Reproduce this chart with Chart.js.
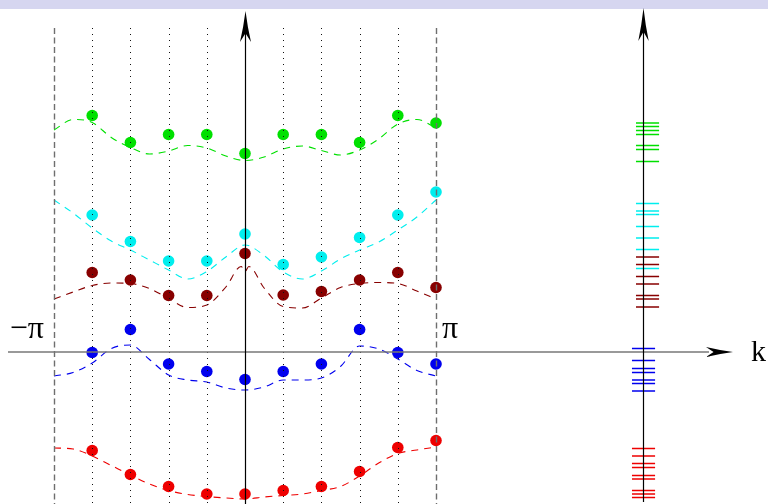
<!DOCTYPE html>
<html>
<head>
<meta charset="utf-8">
<title>Band structure</title>
<script src="https://cdn.jsdelivr.net/npm/chart.js@4/dist/chart.umd.min.js"></script>
<style>
  html, body { margin: 0; padding: 0; background: #ffffff; }
  #c { display: block; }
</style>
</head>
<body>
<canvas id="c" width="768" height="504" style="width:768px;height:504px"></canvas>
<script>
// Wave vector k in units of pi; the Brillouin zone runs from -1 to 1.
const kPoints = [-0.8, -0.6, -0.4, -0.2, 0, 0.2, 0.4, 0.6, 0.8, 1.0];
const kCurve = [-1, -0.9, -0.8, -0.7, -0.6, -0.5, -0.4, -0.3, -0.2, -0.1, 0,
                0.1, 0.2, 0.3, 0.4, 0.5, 0.6, 0.7, 0.8, 0.9, 1];
const kCurveDark = [-1, -0.9, -0.8, -0.7, -0.6, -0.5, -0.4, -0.3, -0.2, -0.1, -0.02, 0, 0.02,
                    0.1, 0.2, 0.3, 0.4, 0.5, 0.6, 0.7, 0.8, 0.9, 1];

// Energies of the discrete states (dots), one band per array.
const greenDots   = [4.73, 4.19, 4.35, 4.35, 3.97, 4.35, 4.35, 4.19, 4.73, 4.58];
const cyanDots    = [2.74, 2.21, 1.82, 1.82, 2.36, 1.75, 1.90, 2.29, 2.74, 3.20];
const darkRedDots = [1.59, 1.44, 1.13, 1.13, 1.97, 1.14, 1.21, 1.44, 1.59, 1.29];
const blueDots    = [-0.01, 0.45, -0.24, -0.39, -0.55, -0.39, -0.24, 0.45, -0.01, -0.24];
const redDots     = [-1.97, -2.45, -2.69, -2.84, -2.84, -2.77, -2.69, -2.39, -1.91, -1.77];

// Continuous bands (dashed curves).
const greenBand   = [4.44, 4.65, 4.59, 4.29, 4.09, 3.96, 4.02, 4.13, 4.08, 3.92, 3.83,
                     3.90, 4.06, 4.12, 4.03, 3.94, 4.04, 4.26, 4.56, 4.65, 4.48];
const cyanBand    = [3.04, 2.78, 2.48, 2.22, 2.04, 1.84, 1.64, 1.46, 1.61, 1.90, 2.14,
                     1.93, 1.60, 1.46, 1.62, 1.86, 2.04, 2.20, 2.44, 2.70, 3.04];
const darkRedBand = [1.06, 1.20, 1.33, 1.38, 1.37, 1.27, 1.07, 0.89, 0.94, 1.30, 1.71, 1.61, 1.71,
                     1.28, 0.91, 0.88, 1.08, 1.29, 1.37, 1.39, 1.37, 1.22, 1.06];
const blueBand    = [-0.48, -0.41, -0.22, 0.07, 0.14, -0.15, -0.46, -0.56, -0.60, -0.72, -0.76,
                     -0.70, -0.56, -0.56, -0.52, -0.29, 0.12, 0.06, -0.14, -0.37, -0.48];
const redBand     = [-1.92, -1.94, -2.08, -2.27, -2.46, -2.64, -2.77, -2.85, -2.89, -2.92, -2.94,
                     -2.90, -2.87, -2.84, -2.77, -2.69, -2.48, -2.22, -2.03, -1.96, -1.90];

// Energy levels of the finite system, shown on the right-hand axis.
const greenLevels   = [4.58, 4.51, 4.43, 4.35, 4.13, 4.05, 3.81];
const cyanLevels    = [2.97, 2.82, 2.75, 2.51, 2.28, 2.05, 1.67];
const darkRedLevels = [1.90, 1.75, 1.51, 1.36, 1.13, 1.06, 0.90];
const blueLevels    = [0.07, -0.17, -0.33, -0.41, -0.56, -0.63, -0.78];
const redLevels     = [-1.93, -2.08, -2.23, -2.31, -2.47, -2.54, -2.77, -2.84, -2.91];

// Axis ticks and labels.
const zoneEdges = [-1, 1];
const zoneEdgeLabels = ['\u2212\u03c0', '\u03c0'];
const innerK = [-0.8, -0.6, -0.4, -0.2, 0.2, 0.4, 0.6, 0.8];
const axisLabel = 'k';

const levelAxisK = 2.085;
const upperLevelSpan = [2.047, 2.168];
const lowerLevelSpan = [2.026, 2.147];

const COLORS = {
  green: '#00e000',
  cyan: '#00eeee',
  darkRed: '#880000',
  blue: '#0000ee',
  red: '#ee0000'
};

function pairs(xs, ys) { return xs.map((x, i) => ({ x: x, y: ys[i] })); }

function levelSegments(levels, span) {
  const out = [];
  levels.forEach(e => {
    out.push({ x: span[0], y: e });
    out.push({ x: span[1], y: e });
    out.push({ x: span[1], y: null });
  });
  return out;
}

function curve(xs, ys, color) {
  return {
    data: pairs(xs, ys), showLine: true, borderColor: color, borderWidth: 1.1,
    borderDash: [7, 6], pointRadius: 0, cubicInterpolationMode: 'monotone', fill: false
  };
}
function dots(ys, color) {
  return {
    data: pairs(kPoints, ys), showLine: false, pointRadius: 5.8, pointHoverRadius: 5.8,
    backgroundColor: color, borderColor: color, borderWidth: 0
  };
}
function levels(ls, span, color) {
  return {
    data: levelSegments(ls, span), showLine: true, spanGaps: false, borderColor: color,
    borderWidth: 1.6, pointRadius: 0
  };
}

function arrowHead(ctx, tipX, tipY, dirX, dirY, len, half) {
  const bx = tipX - dirX * len, by = tipY - dirY * len;
  const nx = -dirY, ny = dirX;
  const notchX = tipX - dirX * len * 0.72, notchY = tipY - dirY * len * 0.72;
  ctx.beginPath();
  ctx.moveTo(tipX, tipY);
  ctx.quadraticCurveTo(tipX - dirX * len * 0.5 + nx * half * 0.35, tipY - dirY * len * 0.5 + ny * half * 0.35,
                       bx + nx * half, by + ny * half);
  ctx.lineTo(notchX, notchY);
  ctx.lineTo(bx - nx * half, by - ny * half);
  ctx.quadraticCurveTo(tipX - dirX * len * 0.5 - nx * half * 0.35, tipY - dirY * len * 0.5 - ny * half * 0.35,
                       tipX, tipY);
  ctx.closePath();
  ctx.fill();
}

const framePlugin = {
  id: 'bandFrame',
  beforeDraw(chart) {
    const ctx = chart.ctx;
    ctx.save();
    ctx.fillStyle = '#ffffff';
    ctx.fillRect(0, 0, chart.width, chart.height);
    ctx.fillStyle = '#d6d6f0';
    ctx.fillRect(0, 0, chart.width, 9);
    ctx.restore();
  },
  afterDatasetsDraw(chart) {
    const ctx = chart.ctx;
    const xs = chart.scales.x, ys = chart.scales.y;
    const y0 = ys.getPixelForValue(0);
    const top = 28, bottom = chart.height;
    ctx.save();

    // inner k points: dotted
    ctx.strokeStyle = '#111111';
    ctx.lineWidth = 1;
    ctx.setLineDash([1, 5]);
    innerK.forEach(k => {
      const px = Math.round(xs.getPixelForValue(k)) + 0.5;
      ctx.beginPath(); ctx.moveTo(px, top); ctx.lineTo(px, bottom); ctx.stroke();
    });

    // zone boundaries: dashed
    ctx.strokeStyle = '#6e6e6e';
    ctx.lineWidth = 1.4;
    ctx.setLineDash([6, 3.5]);
    zoneEdges.forEach(k => {
      const px = Math.round(xs.getPixelForValue(k)) + 0.5;
      ctx.beginPath(); ctx.moveTo(px, top); ctx.lineTo(px, bottom); ctx.stroke();
    });
    ctx.setLineDash([]);

    // horizontal k axis
    const axisStart = 8, arrowTip = 733;
    ctx.strokeStyle = '#777777';
    ctx.lineWidth = 1.6;
    ctx.beginPath(); ctx.moveTo(axisStart, y0); ctx.lineTo(arrowTip - 24, y0); ctx.stroke();
    ctx.fillStyle = '#000000';
    arrowHead(ctx, arrowTip, y0, 1, 0, 27, 5);

    // energy axis through k = 0
    const ex = Math.round(xs.getPixelForValue(0)) + 0.5;
    ctx.strokeStyle = '#000000';
    ctx.lineWidth = 1.2;
    ctx.beginPath(); ctx.moveTo(ex, bottom); ctx.lineTo(ex, 30); ctx.stroke();
    arrowHead(ctx, ex, 11, 0, -1, 31, 5.5);

    // level axis on the right
    const lx = Math.round(xs.getPixelForValue(levelAxisK)) + 0.5;
    ctx.beginPath(); ctx.moveTo(lx, 502); ctx.lineTo(lx, 30); ctx.stroke();
    arrowHead(ctx, lx, 8, 0, -1, 33, 5.2);

    // labels
    ctx.fillStyle = '#000000';
    ctx.font = '32px "Liberation Serif", "DejaVu Serif", serif';
    ctx.textBaseline = 'alphabetic';
    ctx.textAlign = 'right';
    ctx.fillText(zoneEdgeLabels[0], xs.getPixelForValue(zoneEdges[0]) - 10, y0 - 14);
    ctx.textAlign = 'left';
    ctx.fillText(zoneEdgeLabels[1], xs.getPixelForValue(zoneEdges[1]) + 6, y0 - 14);
    ctx.font = '30px "Liberation Serif", "DejaVu Serif", serif';
    ctx.fillText(axisLabel, 751, y0 + 9);
    ctx.restore();
  }
};

new Chart(document.getElementById('c'), {
  type: 'scatter',
  data: {
    datasets: [
      curve(kCurve, greenBand, COLORS.green),
      curve(kCurve, cyanBand, COLORS.cyan),
      curve(kCurveDark, darkRedBand, COLORS.darkRed),
      curve(kCurve, blueBand, COLORS.blue),
      curve(kCurve, redBand, COLORS.red),
      dots(greenDots, COLORS.green),
      dots(cyanDots, COLORS.cyan),
      dots(darkRedDots, COLORS.darkRed),
      dots(blueDots, COLORS.blue),
      dots(redDots, COLORS.red),
      levels(greenLevels, upperLevelSpan, COLORS.green),
      levels(cyanLevels, upperLevelSpan, COLORS.cyan),
      levels(darkRedLevels, upperLevelSpan, COLORS.darkRed),
      levels(blueLevels, lowerLevelSpan, COLORS.blue),
      levels(redLevels, lowerLevelSpan, COLORS.red)
    ]
  },
  options: {
    responsive: false,
    animation: false,
    devicePixelRatio: 1,
    layout: { padding: 0, autoPadding: false },
    events: [],
    plugins: { legend: { display: false }, tooltip: { enabled: false } },
    scales: {
      x: { type: 'linear', min: -1.2827, max: 2.7382, display: false },
      y: { type: 'linear', min: -3.04, max: 7.04, display: false }
    }
  },
  plugins: [framePlugin]
});
</script>
</body>
</html>
